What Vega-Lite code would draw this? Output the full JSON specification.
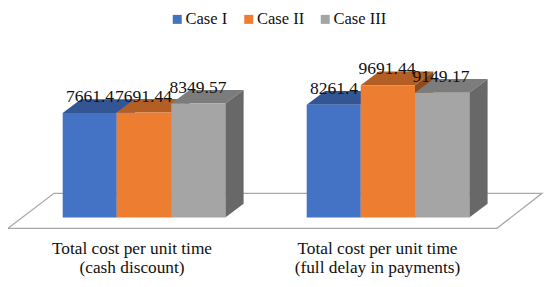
{"$schema":"https://vega.github.io/schema/vega-lite/v6.json","width":550,"height":287,"padding":0,"autosize":{"type":"fit","contains":"padding"},"background":"white","view":{"stroke":null},"config":{"font":"Liberation Serif"},
"datasets":{
"floor":[{"o":1,"x":8,"y":-792},{"o":2,"x":54,"y":1774},{"o":3,"x":542,"y":1774},{"o":4,"x":497,"y":-792},{"o":5,"x":8,"y":-792}],
"bars":[{"group":"Total cost per unit time (cash discount)","case":"Case I","mid":90,"value":7661.4},{"group":"Total cost per unit time (cash discount)","case":"Case II","mid":143.5,"value":7691.44},{"group":"Total cost per unit time (cash discount)","case":"Case III","mid":198,"value":8349.57},{"group":"Total cost per unit time (full delay in payments)","case":"Case I","mid":334,"value":8261.4},{"group":"Total cost per unit time (full delay in payments)","case":"Case II","mid":387,"value":9691.44},{"group":"Total cost per unit time (full delay in payments)","case":"Case III","mid":441,"value":9149.17}],
"cats":[{"t":"Total cost per unit time","x":132,"y":-2680},{"t":"(cash discount)","x":132,"y":-4070},{"t":"Total cost per unit time","x":377.5,"y":-2680},{"t":"(full delay in payments)","x":377.5,"y":-4070}],
"faces":[
{"id":"1t","face":"Case I top","x":62.7,"lo":7661.4,"hi":7661.4},{"id":"1t","face":"Case I top","x":81,"lo":7661.4,"hi":8665.4},{"id":"1t","face":"Case I top","x":116.7,"lo":7661.4,"hi":8665.4},{"id":"1t","face":"Case I top","x":135,"lo":8665.4,"hi":8665.4},
{"id":"1s","face":"Case I side","x":116.7,"lo":0,"hi":7661.4},{"id":"1s","face":"Case I side","x":135,"lo":1004,"hi":8665.4},
{"id":"1f","face":"Case I","x":62.7,"lo":0,"hi":7661.4},{"id":"1f","face":"Case I","x":116.7,"lo":0,"hi":7661.4},
{"id":"2t","face":"Case II top","x":116.7,"lo":7691.44,"hi":7691.44},{"id":"2t","face":"Case II top","x":135,"lo":7691.44,"hi":8695.44},{"id":"2t","face":"Case II top","x":171.3,"lo":7691.44,"hi":8695.44},{"id":"2t","face":"Case II top","x":189.6,"lo":8695.44,"hi":8695.44},
{"id":"2s","face":"Case II side","x":171.3,"lo":0,"hi":7691.44},{"id":"2s","face":"Case II side","x":189.6,"lo":1004,"hi":8695.44},
{"id":"2f","face":"Case II","x":116.7,"lo":0,"hi":7691.44},{"id":"2f","face":"Case II","x":171.3,"lo":0,"hi":7691.44},
{"id":"3t","face":"Case III top","x":171.3,"lo":8349.57,"hi":8349.57},{"id":"3t","face":"Case III top","x":189.6,"lo":8349.57,"hi":9353.57},{"id":"3t","face":"Case III top","x":225.3,"lo":8349.57,"hi":9353.57},{"id":"3t","face":"Case III top","x":243.6,"lo":9353.57,"hi":9353.57},
{"id":"3s","face":"Case III side","x":225.3,"lo":0,"hi":8349.57},{"id":"3s","face":"Case III side","x":243.6,"lo":1004,"hi":9353.57},
{"id":"3f","face":"Case III","x":171.3,"lo":0,"hi":8349.57},{"id":"3f","face":"Case III","x":225.3,"lo":0,"hi":8349.57},
{"id":"4t","face":"Case I top","x":306.7,"lo":8261.4,"hi":8261.4},{"id":"4t","face":"Case I top","x":325,"lo":8261.4,"hi":9265.4},{"id":"4t","face":"Case I top","x":360.7,"lo":8261.4,"hi":9265.4},{"id":"4t","face":"Case I top","x":379,"lo":9265.4,"hi":9265.4},
{"id":"4s","face":"Case I side","x":360.7,"lo":0,"hi":8261.4},{"id":"4s","face":"Case I side","x":379,"lo":1004,"hi":9265.4},
{"id":"4f","face":"Case I","x":306.7,"lo":0,"hi":8261.4},{"id":"4f","face":"Case I","x":360.7,"lo":0,"hi":8261.4},
{"id":"5t","face":"Case II top","x":360.7,"lo":9691.44,"hi":9691.44},{"id":"5t","face":"Case II top","x":379,"lo":9691.44,"hi":10695.44},{"id":"5t","face":"Case II top","x":415,"lo":9691.44,"hi":10695.44},{"id":"5t","face":"Case II top","x":433.3,"lo":10695.44,"hi":10695.44},
{"id":"5s","face":"Case II side","x":415,"lo":0,"hi":9691.44},{"id":"5s","face":"Case II side","x":433.3,"lo":1004,"hi":10695.44},
{"id":"5f","face":"Case II","x":360.7,"lo":0,"hi":9691.44},{"id":"5f","face":"Case II","x":415,"lo":0,"hi":9691.44},
{"id":"6t","face":"Case III top","x":415,"lo":9149.17,"hi":9149.17},{"id":"6t","face":"Case III top","x":433.3,"lo":9149.17,"hi":10153.17},{"id":"6t","face":"Case III top","x":469.3,"lo":9149.17,"hi":10153.17},{"id":"6t","face":"Case III top","x":487.6,"lo":10153.17,"hi":10153.17},
{"id":"6s","face":"Case III side","x":469.3,"lo":0,"hi":9149.17},{"id":"6s","face":"Case III side","x":487.6,"lo":1004,"hi":10153.17},
{"id":"6f","face":"Case III","x":415,"lo":0,"hi":9149.17},{"id":"6f","face":"Case III","x":469.3,"lo":0,"hi":9149.17}
]},
"layer":[
{"data":{"name":"floor"},"mark":{"type":"line","color":"#a9a9a9","strokeWidth":1.3},"encoding":{
"x":{"field":"x","type":"quantitative","scale":{"domain":[0,550]},"axis":null},
"y":{"field":"y","type":"quantitative","scale":{"domain":[-5095,15946]},"axis":null},
"order":{"field":"o","type":"quantitative"}}},
{"data":{"name":"faces"},"mark":{"type":"area","orient":"vertical","interpolate":"linear"},"encoding":{
"x":{"field":"x","type":"quantitative","scale":{"domain":[0,550]},"axis":null},
"y":{"field":"hi","type":"quantitative","stack":null,"scale":{"domain":[-5095,15946]},"axis":null},
"y2":{"field":"lo"},
"detail":{"field":"id"},
"fill":{"field":"face","type":"nominal","sort":null,
"scale":{"domain":["Case I","Case II","Case III","Case I top","Case II top","Case III top","Case I side","Case II side","Case III side"],"range":["#4472c4","#ed7d31","#a5a5a5","#335593","#b25e25","#7c7c7c","#2a4375","#8e4b1c","#686868"]},
"legend":{"title":null,"values":["Case I","Case II","Case III"],"orient":"none","legendX":169,"legendY":11,"direction":"horizontal","columns":3,"columnPadding":12.5,"symbolType":"square","symbolSize":81,"symbolStrokeWidth":0,"labelFont":"Liberation Serif","labelFontSize":16.5,"labelColor":"#111111","labelOffset":0}}}},
{"data":{"name":"bars"},"mark":{"type":"text","font":"Liberation Serif","fontSize":17.5,"color":"#111111","baseline":"alphabetic","align":"center","dy":-11},"encoding":{
"x":{"field":"mid","type":"quantitative","scale":{"domain":[0,550]},"axis":null},
"y":{"field":"value","type":"quantitative","scale":{"domain":[-5095,15946]},"axis":null},
"text":{"field":"value","type":"quantitative","format":".2~f"}}},
{"data":{"name":"cats"},"mark":{"type":"text","font":"Liberation Serif","fontSize":17.3,"color":"#111111","baseline":"alphabetic","align":"center"},"encoding":{
"x":{"field":"x","type":"quantitative","scale":{"domain":[0,550]},"axis":null},
"y":{"field":"y","type":"quantitative","scale":{"domain":[-5095,15946]},"axis":null},
"text":{"field":"t","type":"nominal"}}}
]}
